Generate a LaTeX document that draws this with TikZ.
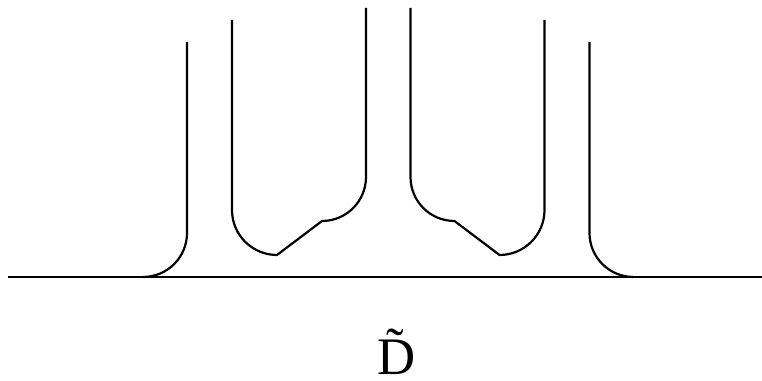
\documentclass[tikz,border=0pt]{standalone}
\usepackage{fontspec}
\setmainfont{Liberation Serif}
\tikzset{curve/.style={line width=1.25pt,line join=round}}

\begin{document}
\begin{tikzpicture}[>=latex]

              \useasboundingbox (0,0) rectangle (15.24,7.62);

              % Ground
              \draw [curve] (0.16,2.08) -- (15.24,2.08);

              % Left arm
              \draw [curve] (3.74,6.78) -- (3.74,2.96) arc (0:-90:0.88);

              % Left pocket
              \draw [curve] (4.64,7.22) -- (4.64,3.42) arc (180:270:0.9) -- (6.44,3.2) arc (-90:0:0.88) -- (7.32,7.46);

              % Right pocket
              \draw [curve] (8.21,7.46) -- (8.21,4.08) arc (180:270:0.88) -- (9.99,2.52) arc (-90:0:0.9) -- (10.89,7.22);

              % Right arm
              \draw [curve] (11.79,6.78) -- (11.79,2.96) arc (180:270:0.88);

              % Label
              \node [inner sep=0pt,font=\fontsize{30pt}{30pt}\selectfont] (label) at (7.93,0.58) {\~D};

        \end{tikzpicture}
\end{document}
